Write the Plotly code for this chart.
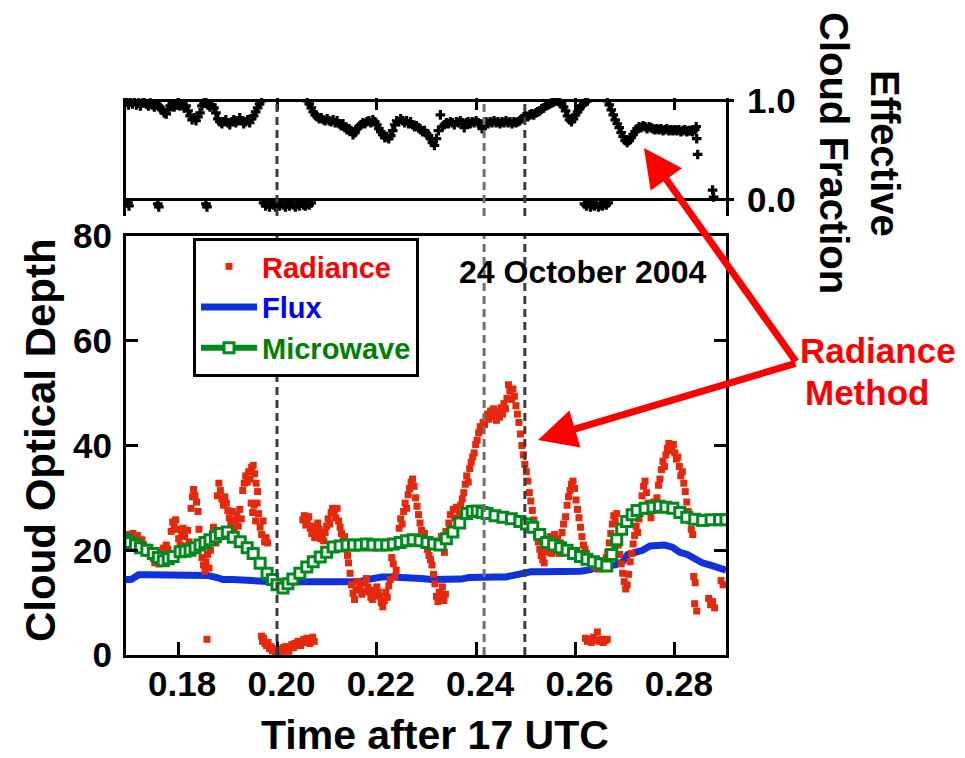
import plotly.graph_objects as go

W, H = 965, 758
PAGE_OFFSET = 8  # the page body margin shifts the figure by 8 px

# ---------------- data ----------------
x_tickvals = [0.18, 0.20, 0.22, 0.24, 0.26, 0.28]
x_ticktext = ["0.18", "0.20", "0.22", "0.24", "0.26", "0.28"]
y_tickvals = [0, 20, 40, 60, 80]
y_ticktext = ["0", "20", "40", "60", "80"]
cf_tickvals = [0.0, 1.0]
cf_ticktext = ["0.0", "1.0"]
event_times = [0.1999, 0.2416, 0.2498]
event_colors = ["#3c3c3c", "#707070", "#3c3c3c"]

radiance_points = [
    (0.1697, 23.0), (0.1699, 21.0), (0.1702, 22.2), (0.1704, 20.6), (0.1707, 21.8), (0.1709, 23.2),
    (0.1712, 22.0), (0.1715, 21.2), (0.1718, 22.8), (0.1721, 21.5), (0.1724, 20.8), (0.1727, 22.0),
    (0.1730, 21.0), (0.1733, 19.8), (0.1736, 20.6), (0.1739, 19.4), (0.1742, 20.2), (0.1744, 18.8),
    (0.1747, 19.2), (0.1750, 18.4), (0.1753, 17.6), (0.1756, 18.8), (0.1758, 17.8),
    (0.1761, 17.4), (0.1764, 18.2), (0.1767, 19.6), (0.1770, 20.4), (0.1773, 19.0), (0.1776, 21.0),
    (0.1779, 20.2), (0.1782, 19.4),
    (0.1786, 23.6), (0.1789, 25.4), (0.1792, 24.6), (0.1795, 25.8), (0.1798, 24.0), (0.1801, 22.2),
    (0.1804, 21.0), (0.1807, 23.0), (0.1810, 24.2), (0.1813, 22.6), (0.1816, 20.8),
    (0.1819, 23.8), (0.1822, 21.6), (0.1825, 19.8), (0.1826, 28.0), (0.1829, 30.2), (0.1831, 31.6),
    (0.1834, 30.4), (0.1837, 29.2), (0.1840, 27.4), (0.1842, 24.0), (0.1845, 21.2), (0.1848, 18.6),
    (0.1851, 17.2), (0.1854, 16.0), (0.1856, 17.8), (0.1859, 19.2), (0.1862, 16.6), (0.1865, 20.0),
    (0.1868, 22.4), (0.1871, 24.4), (0.1874, 23.0), (0.1876, 21.4),
    (0.1879, 30.4), (0.1882, 32.8), (0.1885, 31.4), (0.1888, 29.8), (0.1891, 28.6), (0.1894, 30.2),
    (0.1897, 29.0), (0.1900, 27.6), (0.1903, 26.2), (0.1906, 25.0), (0.1909, 27.4), (0.1912, 24.2),
    (0.1915, 25.6), (0.1918, 26.8), (0.1921, 24.6), (0.1924, 27.8), (0.1927, 26.0),
    (0.1930, 31.4), (0.1933, 32.8), (0.1936, 34.2), (0.1939, 33.0), (0.1942, 35.0), (0.1945, 33.6),
    (0.1948, 35.8), (0.1951, 36.2), (0.1954, 34.6), (0.1957, 32.8), (0.1960, 31.2),
    (0.1947, 29.0), (0.1950, 27.2), (0.1953, 28.6), (0.1956, 25.6), (0.1959, 29.0),
    (0.1962, 27.0), (0.1965, 24.4), (0.1968, 23.0), (0.1971, 25.6), (0.1974, 21.6), (0.1977, 22.4),
    (0.1980, 21.4),
    (0.1858, 3.0),
    (0.1968, 3.6), (0.1970, 2.6), (0.1972, 3.2), (0.1975, 2.2), (0.1978, 1.8), (0.1981, 2.4),
    (0.1984, 1.2), (0.1987, 1.6), (0.1990, 0.8), (0.1993, 1.2), (0.1996, 0.5), (0.1999, 0.9),
    (0.2002, 0.4), (0.2005, 1.0), (0.2008, 0.6), (0.2011, 1.4), (0.2014, 0.8), (0.2017, 1.6),
    (0.2020, 1.1), (0.2023, 0.7), (0.2026, 1.5), (0.2029, 2.0), (0.2032, 1.4), (0.2035, 2.2),
    (0.2038, 1.8), (0.2041, 2.6), (0.2044, 2.2), (0.2047, 1.8), (0.2050, 2.6), (0.2053, 3.0),
    (0.2056, 2.4), (0.2059, 3.2), (0.2062, 2.7), (0.2065, 2.2), (0.2068, 2.9), (0.2071, 3.4),
    (0.2074, 2.6),
    (0.2051, 25.8), (0.2054, 26.6), (0.2057, 24.8), (0.2060, 25.6), (0.2063, 26.4), (0.2066, 24.2),
    (0.2069, 23.2), (0.2072, 24.6), (0.2075, 22.4), (0.2078, 23.6), (0.2081, 25.2), (0.2084, 24.0),
    (0.2087, 22.2), (0.2090, 23.0),
    (0.2093, 21.8), (0.2096, 23.4), (0.2099, 24.6), (0.2102, 26.0), (0.2105, 25.0), (0.2108, 27.2),
    (0.2111, 28.0), (0.2114, 27.4), (0.2117, 26.2), (0.2120, 28.0), (0.2123, 25.6), (0.2126, 24.4),
    (0.2129, 23.2), (0.2132, 21.8), (0.2135, 22.6), (0.2138, 20.4),
    (0.2141, 19.0), (0.2143, 17.6), (0.2146, 15.6), (0.2149, 13.4), (0.2152, 11.8), (0.2155, 10.6),
    (0.2158, 12.4),
    (0.2161, 14.0), (0.2164, 12.6), (0.2167, 13.6), (0.2170, 11.6), (0.2173, 12.2), (0.2176, 13.8),
    (0.2179, 14.6), (0.2182, 13.0), (0.2185, 12.0), (0.2188, 11.0), (0.2191, 10.6), (0.2194, 12.4),
    (0.2197, 11.4), (0.2200, 13.0), (0.2203, 12.0), (0.2206, 11.2), (0.2209, 10.0), (0.2212, 9.2),
    (0.2215, 10.4), (0.2218, 12.0), (0.2221, 11.0), (0.2224, 13.2), (0.2227, 14.4),
    (0.2230, 18.6), (0.2233, 17.4), (0.2236, 15.0), (0.2239, 16.2),
    (0.2242, 22.0), (0.2245, 24.2), (0.2248, 26.0), (0.2251, 25.0), (0.2254, 27.4), (0.2257, 29.0),
    (0.2260, 28.0), (0.2263, 30.6), (0.2266, 31.8), (0.2269, 33.0), (0.2272, 33.6), (0.2275, 32.2),
    (0.2278, 30.0), (0.2281, 28.4), (0.2284, 26.8), (0.2287, 25.2), (0.2290, 23.8), (0.2293, 22.4),
    (0.2296, 23.2), (0.2299, 21.0), (0.2302, 20.2), (0.2305, 19.0), (0.2308, 18.2), (0.2311, 17.2),
    (0.2314, 15.4), (0.2317, 13.6), (0.2320, 11.2), (0.2323, 10.2), (0.2326, 12.0), (0.2329, 11.0),
    (0.2332, 13.0), (0.2335, 10.4), (0.2338, 11.6),
    (0.2330, 22.6), (0.2333, 21.0), (0.2336, 19.6), (0.2339, 23.6), (0.2342, 21.8), (0.2345, 25.2),
    (0.2348, 26.8), (0.2351, 24.0), (0.2354, 27.8), (0.2357, 26.2), (0.2360, 28.2), (0.2363, 25.4),
    (0.2366, 27.0), (0.2369, 28.6), (0.2372, 29.8),
    (0.2375, 31.0), (0.2378, 32.6), (0.2381, 34.2), (0.2384, 33.0), (0.2387, 35.6), (0.2390, 36.8),
    (0.2393, 37.8), (0.2396, 38.6), (0.2399, 40.2),
    (0.2402, 41.0), (0.2405, 42.4), (0.2408, 43.6), (0.2411, 42.8), (0.2414, 44.4), (0.2417, 44.0),
    (0.2420, 45.2),
    (0.2423, 46.0), (0.2426, 45.0), (0.2429, 46.6), (0.2432, 45.6), (0.2435, 47.0), (0.2438, 46.2),
    (0.2441, 44.8), (0.2444, 46.4), (0.2447, 45.4), (0.2450, 47.2), (0.2453, 46.0), (0.2456, 48.0),
    (0.2459, 47.0),
    (0.2462, 49.0), (0.2465, 51.6), (0.2468, 50.4), (0.2471, 48.8), (0.2474, 50.8), (0.2477, 49.4),
    (0.2480, 47.6),
    (0.2483, 46.0), (0.2486, 44.4), (0.2489, 42.2), (0.2492, 40.0), (0.2495, 38.2), (0.2498, 36.4),
    (0.2501, 35.0), (0.2504, 33.2), (0.2507, 31.0), (0.2510, 29.4),
    (0.2513, 27.6), (0.2516, 25.8), (0.2519, 24.2), (0.2522, 22.8), (0.2525, 21.6), (0.2528, 20.2),
    (0.2531, 19.0), (0.2534, 18.2), (0.2537, 17.6), (0.2540, 19.6), (0.2543, 21.8), (0.2546, 20.4),
    (0.2549, 22.6), (0.2552, 19.4), (0.2555, 21.2), (0.2558, 23.0), (0.2561, 20.0), (0.2564, 22.2),
    (0.2567, 19.4), (0.2570, 21.4), (0.2573, 23.4), (0.2576, 25.0),
    (0.2580, 26.4), (0.2583, 28.6), (0.2586, 30.2), (0.2589, 31.4), (0.2592, 32.6), (0.2595, 33.2),
    (0.2598, 31.8), (0.2601, 29.6), (0.2604, 27.8), (0.2607, 26.2), (0.2610, 24.4), (0.2613, 22.6),
    (0.2616, 21.0), (0.2619, 20.2), (0.2622, 19.4),
    (0.2626, 18.4), (0.2630, 17.6), (0.2634, 18.2), (0.2638, 16.8), (0.2642, 17.4), (0.2646, 16.4),
    (0.2650, 17.0), (0.2654, 18.0), (0.2658, 17.2), (0.2662, 18.6),
    (0.2665, 19.6), (0.2668, 21.4), (0.2671, 23.2), (0.2674, 25.0), (0.2677, 26.6), (0.2680, 25.6),
    (0.2683, 27.0),
    (0.2686, 21.0), (0.2689, 19.2), (0.2692, 17.4), (0.2695, 15.6), (0.2698, 14.0), (0.2701, 12.6),
    (0.2704, 13.4), (0.2707, 15.4), (0.2710, 17.8), (0.2713, 19.4), (0.2716, 21.2), (0.2719, 22.8),
    (0.2722, 24.6), (0.2725, 23.4),
    (0.2728, 26.0), (0.2731, 28.2), (0.2734, 30.4), (0.2737, 32.2), (0.2740, 33.2), (0.2743, 31.0),
    (0.2746, 29.0), (0.2749, 27.4), (0.2752, 26.2), (0.2755, 27.6), (0.2758, 29.2), (0.2761, 28.0),
    (0.2764, 30.0), (0.2767, 32.4),
    (0.2770, 33.6), (0.2773, 35.4), (0.2776, 37.0), (0.2779, 36.0), (0.2782, 38.2), (0.2785, 39.4),
    (0.2788, 40.4), (0.2791, 40.0), (0.2794, 39.0), (0.2797, 40.2), (0.2800, 38.6), (0.2803, 37.4),
    (0.2806, 37.8), (0.2809, 36.0), (0.2812, 34.2), (0.2815, 35.0), (0.2818, 32.8), (0.2821, 31.2),
    (0.2824, 29.2), (0.2827, 27.4), (0.2830, 25.6), (0.2833, 24.0), (0.2836, 23.0),
    (0.2838, 15.0), (0.2841, 13.8), (0.2840, 9.8), (0.2844, 8.4),
    (0.2868, 10.8), (0.2872, 9.6), (0.2876, 10.2), (0.2880, 9.0),
    (0.2893, 14.2), (0.2897, 13.4),
    (0.2620, 3.2), (0.2624, 2.6), (0.2628, 3.0), (0.2632, 2.4), (0.2636, 3.4), (0.2640, 2.8),
    (0.2644, 4.4), (0.2648, 2.6), (0.2652, 3.0), (0.2656, 2.4), (0.2660, 2.8), (0.2664, 3.0),
]

flux_points = [
    (0.1695, 14.4), (0.1705, 14.4), (0.1712, 14.8), (0.1720, 15.3), (0.1740, 15.3), (0.1760, 15.3),
    (0.1780, 15.3), (0.1800, 15.3), (0.1820, 15.3), (0.1840, 15.3), (0.1860, 15.2), (0.1878, 14.8),
    (0.1890, 14.4), (0.1910, 14.4), (0.1930, 14.4), (0.1950, 14.3), (0.1970, 14.1), (0.1990, 14.0),
    (0.2010, 14.0), (0.2030, 14.0), (0.2050, 14.0), (0.2070, 13.9), (0.2090, 13.8), (0.2110, 13.8),
    (0.2130, 13.8), (0.2150, 13.8), (0.2166, 14.0), (0.2180, 14.4), (0.2195, 14.8), (0.2210, 14.9),
    (0.2230, 14.9), (0.2250, 14.9), (0.2270, 14.9), (0.2290, 14.6), (0.2310, 14.4), (0.2330, 14.4),
    (0.2350, 14.4), (0.2370, 14.5), (0.2385, 14.8), (0.2400, 14.9), (0.2420, 14.9), (0.2440, 14.9),
    (0.2460, 14.9), (0.2480, 15.3), (0.2495, 15.8), (0.2510, 15.9), (0.2530, 15.9), (0.2550, 15.9),
    (0.2570, 15.9), (0.2590, 15.9), (0.2610, 16.0), (0.2630, 16.3), (0.2645, 16.9), (0.2660, 17.0),
    (0.2680, 17.2), (0.2695, 17.8), (0.2705, 19.2), (0.2720, 19.6), (0.2735, 20.0), (0.2750, 20.8),
    (0.2765, 21.0), (0.2780, 21.0), (0.2795, 20.6), (0.2810, 19.6), (0.2825, 19.2), (0.2840, 18.2),
    (0.2855, 17.6), (0.2870, 17.2), (0.2885, 16.8), (0.2903, 16.2),
]

microwave_points = [
    (0.1695, 22.0), (0.1703, 21.5), (0.1714, 21.0), (0.1724, 20.5), (0.1737, 20.0), (0.1750, 19.4),
    (0.1760, 18.6), (0.1770, 18.0), (0.1780, 18.4), (0.1790, 18.8), (0.1804, 19.7), (0.1814, 19.8),
    (0.1824, 20.0), (0.1834, 20.5), (0.1844, 21.0), (0.1854, 21.5), (0.1864, 22.0), (0.1875, 22.6),
    (0.1885, 23.2), (0.1899, 23.5), (0.1911, 22.5), (0.1925, 21.6), (0.1939, 20.5), (0.1951, 19.4),
    (0.1965, 17.5), (0.1979, 15.6), (0.1990, 14.4), (0.1999, 13.4), (0.2011, 12.8), (0.2021, 13.6),
    (0.2031, 14.5), (0.2045, 15.6), (0.2059, 16.8), (0.2072, 17.8), (0.2086, 18.7), (0.2099, 19.6),
    (0.2112, 20.6), (0.2126, 20.8), (0.2140, 21.0), (0.2153, 21.0), (0.2166, 21.0), (0.2179, 21.2),
    (0.2192, 21.0), (0.2206, 21.0), (0.2220, 21.0), (0.2233, 21.2), (0.2247, 21.5), (0.2260, 21.8),
    (0.2273, 22.0), (0.2287, 21.8), (0.2301, 21.5), (0.2314, 21.2), (0.2327, 21.0), (0.2340, 22.2),
    (0.2353, 23.5), (0.2367, 25.2), (0.2381, 27.0), (0.2392, 27.4), (0.2402, 27.5), (0.2412, 27.2),
    (0.2422, 27.0), (0.2438, 26.6), (0.2454, 26.3), (0.2471, 26.0), (0.2488, 25.5), (0.2501, 25.0),
    (0.2514, 24.4), (0.2528, 23.0), (0.2542, 21.5), (0.2556, 21.0), (0.2570, 20.5), (0.2583, 20.0),
    (0.2596, 19.4), (0.2610, 18.8), (0.2623, 18.3), (0.2636, 17.8), (0.2650, 17.4), (0.2663, 17.0),
    (0.2673, 19.2), (0.2683, 22.0), (0.2693, 24.0), (0.2703, 25.5), (0.2714, 26.8), (0.2724, 27.6),
    (0.2740, 28.0), (0.2756, 28.2), (0.2769, 28.4), (0.2782, 28.2), (0.2796, 28.0), (0.2810, 27.2),
    (0.2824, 26.3), (0.2840, 25.9), (0.2856, 25.7), (0.2873, 25.8), (0.2890, 25.8), (0.2903, 25.8),
]

cloud_fraction_points = [
    (0.1697, 0.99), (0.1700, 0.96), (0.1704, 0.99), (0.1708, 0.97), (0.1712, 1.00), (0.1716, 0.96),
    (0.1720, 0.98), (0.1724, 0.95), (0.1728, 0.98), (0.1732, 1.00), (0.1736, 0.97), (0.1740, 0.95),
    (0.1744, 0.98), (0.1748, 0.96), (0.1752, 0.94), (0.1756, 0.97), (0.1760, 0.95), (0.1764, 0.93),
    (0.1768, 0.91), (0.1772, 0.88), (0.1776, 0.87), (0.1780, 0.91), (0.1784, 0.95), (0.1788, 0.97),
    (0.1792, 0.94), (0.1796, 0.96), (0.1800, 0.99), (0.1804, 0.95), (0.1808, 0.97), (0.1812, 0.93),
    (0.1816, 0.95), (0.1820, 0.90), (0.1824, 0.85), (0.1828, 0.81), (0.1832, 0.83), (0.1836, 0.80),
    (0.1840, 0.84), (0.1844, 0.88), (0.1848, 0.95), (0.1852, 0.98), (0.1856, 1.00), (0.1860, 0.96),
    (0.1864, 0.94), (0.1868, 0.96), (0.1872, 0.93), (0.1876, 0.88), (0.1880, 0.82), (0.1884, 0.79),
    (0.1888, 0.77), (0.1892, 0.79), (0.1896, 0.81), (0.1900, 0.78), (0.1904, 0.76), (0.1908, 0.79),
    (0.1912, 0.81), (0.1916, 0.78), (0.1920, 0.80), (0.1924, 0.83), (0.1928, 0.80), (0.1932, 0.77),
    (0.1936, 0.79), (0.1940, 0.81), (0.1944, 0.78), (0.1948, 0.82), (0.1952, 0.85), (0.1956, 0.89),
    (0.1960, 0.93), (0.1964, 0.97), (0.1968, 1.00),
    (0.1699, -0.03), (0.1701, -0.06), (0.1759, -0.04), (0.1761, -0.07), (0.1856, -0.04), (0.1858, -0.07),
    (0.1972, -0.03), (0.1976, -0.06), (0.1980, -0.04), (0.1984, -0.07), (0.1988, -0.03), (0.1992, -0.05),
    (0.1996, -0.07), (0.2000, -0.04), (0.2004, -0.06), (0.2008, -0.03), (0.2012, -0.05), (0.2016, -0.07),
    (0.2020, -0.04), (0.2024, -0.06), (0.2028, -0.03), (0.2032, -0.05), (0.2036, -0.07), (0.2040, -0.04),
    (0.2044, -0.06), (0.2048, -0.03), (0.2052, -0.05), (0.2056, -0.06), (0.2060, -0.04), (0.2064, -0.05),
    (0.2068, -0.03),
    (0.2060, 1.00), (0.2064, 0.97), (0.2068, 0.93), (0.2072, 0.89), (0.2076, 0.86), (0.2080, 0.84),
    (0.2084, 0.82), (0.2088, 0.83), (0.2092, 0.81), (0.2096, 0.80), (0.2100, 0.82), (0.2104, 0.80),
    (0.2108, 0.79), (0.2112, 0.81), (0.2116, 0.78), (0.2120, 0.80), (0.2124, 0.77), (0.2128, 0.75),
    (0.2132, 0.77), (0.2136, 0.73), (0.2140, 0.71), (0.2144, 0.72), (0.2148, 0.70), (0.2152, 0.66),
    (0.2156, 0.68), (0.2160, 0.72), (0.2164, 0.74), (0.2168, 0.76), (0.2172, 0.78), (0.2176, 0.77),
    (0.2180, 0.79), (0.2184, 0.80), (0.2188, 0.78), (0.2192, 0.81), (0.2196, 0.79), (0.2200, 0.76),
    (0.2204, 0.72), (0.2208, 0.69), (0.2212, 0.66), (0.2216, 0.63), (0.2220, 0.64), (0.2224, 0.62),
    (0.2228, 0.65), (0.2232, 0.70), (0.2236, 0.76), (0.2240, 0.80), (0.2244, 0.79), (0.2248, 0.82),
    (0.2252, 0.80), (0.2256, 0.78), (0.2260, 0.80), (0.2264, 0.77), (0.2268, 0.79), (0.2272, 0.76),
    (0.2276, 0.74), (0.2280, 0.75), (0.2284, 0.73), (0.2288, 0.71), (0.2292, 0.69), (0.2296, 0.70),
    (0.2300, 0.67), (0.2304, 0.65), (0.2308, 0.62), (0.2312, 0.58), (0.2316, 0.55), (0.2320, 0.62),
    (0.2324, 0.70), (0.2328, 0.86), (0.2332, 0.74), (0.2336, 0.76), (0.2340, 0.78), (0.2344, 0.77),
    (0.2348, 0.79), (0.2352, 0.78), (0.2356, 0.76), (0.2360, 0.79), (0.2364, 0.78), (0.2368, 0.80),
    (0.2372, 0.78), (0.2376, 0.73), (0.2380, 0.78), (0.2384, 0.79), (0.2388, 0.77), (0.2392, 0.79),
    (0.2396, 0.78), (0.2400, 0.80), (0.2404, 0.78), (0.2408, 0.77), (0.2412, 0.72), (0.2416, 0.78),
    (0.2420, 0.79), (0.2424, 0.77), (0.2428, 0.79), (0.2432, 0.78), (0.2436, 0.80), (0.2440, 0.78),
    (0.2444, 0.79), (0.2448, 0.77), (0.2452, 0.79), (0.2456, 0.78), (0.2460, 0.80), (0.2464, 0.78),
    (0.2468, 0.79), (0.2472, 0.77), (0.2476, 0.79), (0.2480, 0.78), (0.2484, 0.79), (0.2488, 0.80),
    (0.2492, 0.82), (0.2496, 0.84), (0.2500, 0.85), (0.2504, 0.84), (0.2508, 0.86), (0.2512, 0.87),
    (0.2516, 0.86), (0.2520, 0.88), (0.2524, 0.89), (0.2528, 0.90), (0.2532, 0.92), (0.2536, 0.93),
    (0.2540, 0.95), (0.2544, 0.96), (0.2548, 0.97), (0.2552, 0.98), (0.2556, 0.99), (0.2560, 1.00),
    (0.2564, 1.00), (0.2568, 0.99), (0.2572, 0.97), (0.2576, 0.94), (0.2580, 0.90), (0.2584, 0.85),
    (0.2588, 0.81), (0.2592, 0.79), (0.2596, 0.82), (0.2600, 0.86), (0.2604, 0.89), (0.2608, 0.92),
    (0.2612, 0.95), (0.2616, 0.97), (0.2620, 0.99), (0.2624, 1.00),
    (0.2618, -0.04), (0.2622, -0.06), (0.2626, -0.03), (0.2630, -0.07), (0.2634, -0.05), (0.2638, -0.06),
    (0.2642, -0.04), (0.2646, -0.07), (0.2650, -0.05), (0.2654, -0.06), (0.2658, -0.04), (0.2662, -0.05),
    (0.2666, -0.03),
    (0.2664, 1.00), (0.2668, 0.96), (0.2672, 0.91), (0.2676, 0.86), (0.2680, 0.81), (0.2684, 0.77),
    (0.2688, 0.73), (0.2692, 0.68), (0.2696, 0.64), (0.2700, 0.60), (0.2704, 0.58), (0.2708, 0.60),
    (0.2712, 0.63), (0.2716, 0.66), (0.2720, 0.69), (0.2724, 0.72), (0.2728, 0.74), (0.2732, 0.73),
    (0.2736, 0.75), (0.2740, 0.74), (0.2744, 0.72), (0.2748, 0.74), (0.2752, 0.73), (0.2756, 0.72),
    (0.2760, 0.71), (0.2764, 0.72), (0.2768, 0.71), (0.2772, 0.72), (0.2776, 0.70), (0.2780, 0.71),
    (0.2784, 0.72), (0.2788, 0.70), (0.2792, 0.71), (0.2796, 0.70), (0.2800, 0.71), (0.2804, 0.70),
    (0.2808, 0.71), (0.2812, 0.69), (0.2816, 0.70), (0.2820, 0.71), (0.2824, 0.69), (0.2828, 0.70),
    (0.2832, 0.70), (0.2836, 0.69), (0.2840, 0.71), (0.2843, 0.74), (0.2844, 0.62),
    (0.2846, 0.46), (0.2876, 0.10), (0.2878, 0.03),
]

rad_t = [p[0] for p in radiance_points]
rad_v = [p[1] for p in radiance_points]
flux_t = [p[0] for p in flux_points]
flux_v = [p[1] for p in flux_points]
mw_t = [p[0] for p in microwave_points]
mw_v = [p[1] for p in microwave_points]
cf_t = [p[0] for p in cloud_fraction_points]
cf_v = [p[1] for p in cloud_fraction_points]

# ---------------- layout helpers ----------------
FONT = "Liberation Sans, Arial, Helvetica, sans-serif"


def px(xp):
    return (xp - PAGE_OFFSET) / W


def py(yp):
    return 1 - (yp - PAGE_OFFSET) / H


x_dom = [px(126), px(726)]
y_bot_dom = [py(655), py(236)]
y_top_dom = [py(216), py(98)]
x_range = [0.1695, 0.2903]

fig = go.Figure()

fig.add_trace(go.Scatter(
    x=flux_t, y=flux_v, mode="lines", xaxis="x", yaxis="y",
    name='<span style="color:#0000ff">Flux</span>', legendrank=2,
    line=dict(color="#1032dc", width=7),
))
fig.add_trace(go.Scatter(
    x=rad_t, y=rad_v, mode="markers", xaxis="x", yaxis="y",
    name='<span style="color:#ff0000">Radiance</span>', legendrank=1,
    marker=dict(symbol="square", size=7, color="#e6280c", line=dict(width=0)),
))
fig.add_trace(go.Scatter(
    x=mw_t, y=mw_v, mode="lines+markers", xaxis="x", yaxis="y",
    name='<span style="color:#008000">Microwave</span>', legendrank=3,
    line=dict(color="#008a1e", width=6),
    marker=dict(symbol="square", size=10, color="white", line=dict(color="#008a1e", width=3)),
))
fig.add_trace(go.Scatter(
    x=cf_t, y=cf_v, mode="markers", xaxis="x2", yaxis="y2", showlegend=False,
    marker=dict(symbol="cross", size=8, color="black", line=dict(width=0)),
))

shapes = []
for t, c in zip(event_times, event_colors):
    shapes.append(dict(type="line", xref="x", yref="y domain", x0=t, x1=t, y0=0, y1=1,
                       line=dict(color=c, width=3, dash="8px,5px"), layer="above"))
    shapes.append(dict(type="line", xref="x2", yref="y2 domain", x0=t, x1=t, y0=0, y1=0.95,
                       line=dict(color=c, width=3, dash="8px,5px"), layer="above"))

annotations = [
    dict(text="<b>Time after 17 UTC</b>", x=px(435), y=py(735), xref="paper", yref="paper",
         showarrow=False, xanchor="center", yanchor="middle", font=dict(size=41, color="black", family=FONT)),
    dict(text="<b>Cloud Optical Depth</b>", x=px(40), y=py(440), xref="paper", yref="paper",
         showarrow=False, textangle=-90, xanchor="center", yanchor="middle",
         font=dict(size=42, color="black", family=FONT)),
    dict(text="<b>Effective</b>", x=px(885), y=py(153), xref="paper", yref="paper",
         showarrow=False, textangle=90, xanchor="center", yanchor="middle",
         font=dict(size=40, color="black", family=FONT)),
    dict(text="<b>Cloud Fraction</b>", x=px(834), y=py(153), xref="paper", yref="paper",
         showarrow=False, textangle=90, xanchor="center", yanchor="middle",
         font=dict(size=40, color="black", family=FONT)),
    dict(text="<b>24 October 2004</b>", x=px(582), y=py(272), xref="paper", yref="paper",
         showarrow=False, xanchor="center", yanchor="middle", font=dict(size=32, color="black", family=FONT)),
    dict(text="", x=px(538), y=py(440), xref="paper", yref="paper", showarrow=True,
         ax=797 - 538, ay=363 - 440, axref="pixel", ayref="pixel",
         arrowhead=2, arrowsize=1.1, arrowwidth=7, arrowcolor="#ff0000"),
    dict(text="", x=px(644), y=py(148), xref="paper", yref="paper", showarrow=True,
         ax=797 - 644, ay=363 - 148, axref="pixel", ayref="pixel",
         arrowhead=2, arrowsize=1.1, arrowwidth=7, arrowcolor="#ff0000"),
    dict(text="<b>Radiance</b>", x=px(878), y=py(350), xref="paper", yref="paper",
         showarrow=False, xanchor="center", yanchor="middle", font=dict(size=35, color="#ff0000", family=FONT)),
    dict(text="<b>Method</b>", x=px(867), y=py(392), xref="paper", yref="paper",
         showarrow=False, xanchor="center", yanchor="middle", font=dict(size=35, color="#ff0000", family=FONT)),
]

tickfont = dict(size=35, color="black", family=FONT, weight="bold")

fig.update_layout(
    template="none",
    width=W, height=H, autosize=False,
    margin=dict(l=0, r=0, t=0, b=0, pad=0, autoexpand=False),
    paper_bgcolor="white", plot_bgcolor="white",
    font=dict(family=FONT, color="black"),
    showlegend=True,
    legend=dict(
        x=px(193), y=py(238), xanchor="left", yanchor="top",
        bgcolor="white", bordercolor="black", borderwidth=3,
        font=dict(size=29, family=FONT, weight="bold"),
        itemwidth=56, tracegroupgap=0,
    ),
    xaxis=dict(
        domain=x_dom, range=x_range, anchor="y", automargin=False,
        tickvals=x_tickvals, ticktext=x_ticktext, tickfont=tickfont,
        ticks="inside", ticklen=13, tickwidth=3, tickcolor="black",
        showline=True, linewidth=3, linecolor="black", mirror=True,
        showgrid=False, zeroline=False, ticklabelshift=4, ticklabelstandoff=-4,
    ),
    yaxis=dict(
        domain=y_bot_dom, range=[0, 80], anchor="x", automargin=False,
        tickvals=y_tickvals, ticktext=y_ticktext, tickfont=tickfont,
        ticks="inside", ticklen=12, tickwidth=3, tickcolor="black",
        showline=True, linewidth=3, linecolor="black", mirror="ticks",
        showgrid=False, zeroline=False, ticklabelstandoff=4,
    ),
    xaxis2=dict(
        domain=x_dom, range=x_range, anchor="y2", matches="x", side="top", automargin=False,
        tickvals=x_tickvals, showticklabels=False,
        ticks="inside", ticklen=12, tickwidth=3, tickcolor="black",
        showline=False, showgrid=False, zeroline=False,
    ),
    yaxis2=dict(
        domain=y_top_dom, range=[-0.162, 1.03], anchor="x2", side="right", automargin=False,
        tickvals=cf_tickvals, ticktext=cf_ticktext, tickfont=tickfont,
        ticks="outside", ticklen=5, tickwidth=3, tickcolor="black",
        showline=True, linewidth=3, linecolor="black", mirror=True,
        showgrid=True, gridcolor="black", gridwidth=3, zeroline=False,
        ticklabelstandoff=6,
    ),
    shapes=shapes,
    annotations=annotations,
)

fig.write_html("out.html")
